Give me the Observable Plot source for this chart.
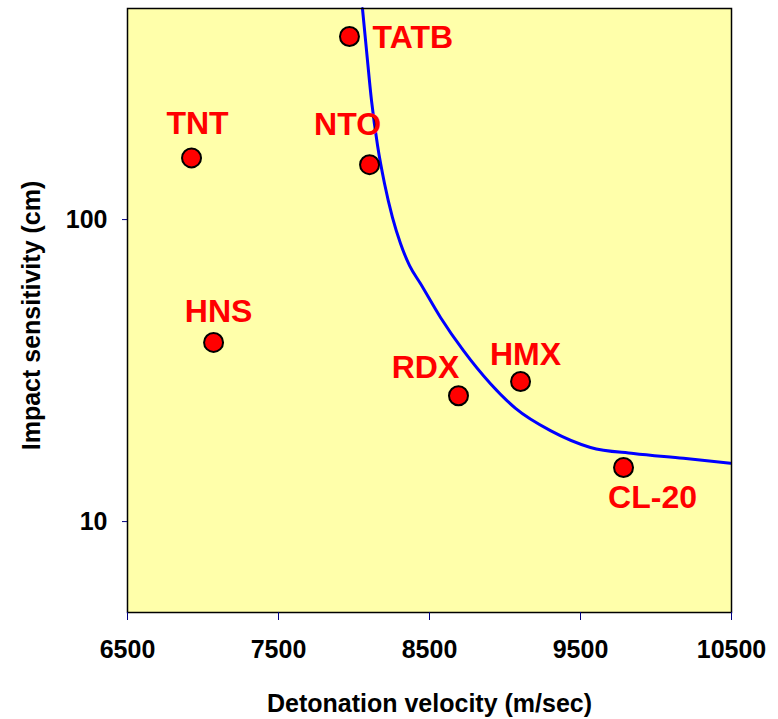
<!DOCTYPE html>
<html>
<head>
<meta charset="utf-8">
<script src="https://cdn.jsdelivr.net/npm/d3@7"></script>
<script src="https://cdn.jsdelivr.net/npm/@observablehq/plot@0.6"></script>
<style>
  html, body { margin: 0; padding: 0; background: #ffffff; }
  #chart svg { display: block; }
</style>
</head>
<body>
<div id="chart"></div>
<script>
// ---- data ----
const names = ["TATB", "NTO", "TNT", "HNS", "RDX", "HMX", "CL-20"];
const velocity = [7970, 8103, 6924, 7070, 8692, 9103, 9785];
const sensitivity = [404, 152, 160, 39.2, 26.1, 29.1, 15.1];

const curveVelocity = [8056, 8083, 8116, 8156, 8202, 8255, 8308, 8368, 8440, 8573, 8725, 8904, 9070, 9301, 9566, 9851, 10182, 10493];
const curveSensitivity = [500, 362.7, 247.7, 175.8, 131.6, 101.5, 83.3, 70.4, 61.4, 47.4, 36.8, 28.6, 23.7, 20.0, 17.6, 16.8, 16.2, 15.6];

const xTicks = [6500, 7500, 8500, 9500, 10500];
const yTicks = [10, 100];
const xTitle = "Detonation velocity (m/sec)";
const yTitle = "Impact sensitivity (cm)";

const points = names.map((n, i) => ({name: n, v: velocity[i], s: sensitivity[i]}));
const curve = curveVelocity.map((v, i) => ({v, s: curveSensitivity[i]}));

// label placement (pixel offsets from the marker)
const labelOffset = {
  "TATB": {dx: 23, dy: 1, anchor: "start"},
  "NTO": {dx: -22, dy: -40, anchor: "middle"},
  "TNT": {dx: 6, dy: -34, anchor: "middle"},
  "HNS": {dx: 5, dy: -31, anchor: "middle"},
  "RDX": {dx: -33, dy: -28, anchor: "middle"},
  "HMX": {dx: 5, dy: -27, anchor: "middle"},
  "CL-20": {dx: 29, dy: 30, anchor: "middle"}
};

const font = "'Liberation Sans', Arial, Helvetica, sans-serif";

const labelMarks = points.map(p => {
  const o = labelOffset[p.name];
  return Plot.text([p], {
    x: "v", y: "s", text: "name",
    dx: o.dx, dy: o.dy, textAnchor: o.anchor,
    fill: "#ff0000", fontSize: 32, fontWeight: "bold", fontFamily: font
  });
});

const chart = Plot.plot({
  width: 778,
  height: 719,
  marginLeft: 127,
  marginRight: 47,
  marginTop: 8,
  marginBottom: 107,
  style: {fontFamily: font, fontWeight: "bold", fontSize: "25px", color: "#000", background: "#ffffff"},
  x: {domain: [6500, 10500]},
  y: {type: "log", domain: [5, 500]},
  marks: [
    Plot.frame({fill: "#ffffaa", stroke: "none"}),
    Plot.line(curve, {x: "v", y: "s", stroke: "#0000ff", strokeWidth: 3, curve: "monotone-x"}),
    Plot.dot(points, {x: "v", y: "s", r: 9.5, fill: "#ff0000", stroke: "#000000", strokeWidth: 2}),
    ...labelMarks,
    Plot.frame({stroke: "#000000", strokeWidth: 1.5}),
    Plot.axisX({
      ticks: xTicks, tickFormat: d => String(d), tickSize: 8, tickPadding: 20,
      stroke: "#000080", fill: "#000000", fontSize: 25, fontWeight: "bold", label: null
    }),
    Plot.axisY({
      ticks: yTicks, tickFormat: d => String(d), tickSize: 5, tickPadding: 15,
      stroke: "#000080", fill: "#000000", fontSize: 25, fontWeight: "bold", label: null
    }),
    Plot.text([xTitle], {
      frameAnchor: "bottom", dy: 91, text: d => d, textAnchor: "middle", lineAnchor: "middle",
      fontSize: 25, fontWeight: "bold", fill: "#000000"
    }),
    Plot.text([yTitle], {
      frameAnchor: "left", dx: -96, dy: 5, rotate: -90, text: d => d,
      textAnchor: "middle", lineAnchor: "middle",
      fontSize: 25, fontWeight: "bold", fill: "#000000"
    })
  ]
});

document.getElementById("chart").appendChild(chart);
</script>
</body>
</html>
